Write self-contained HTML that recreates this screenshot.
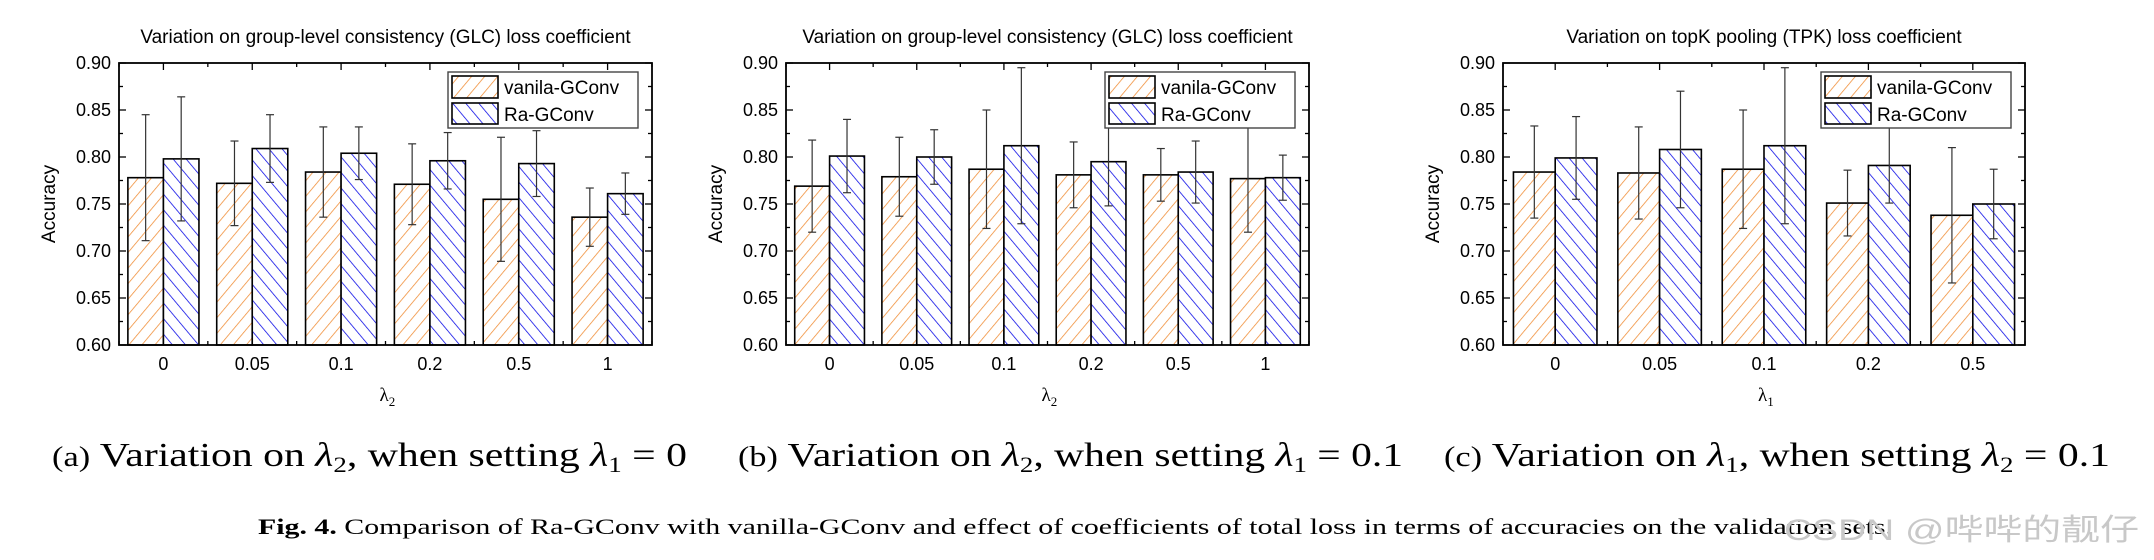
<!DOCTYPE html>
<html><head><meta charset="utf-8"><style>
body{margin:0;background:#fff;width:2154px;height:560px;overflow:hidden;position:relative;font-family:"Liberation Sans",sans-serif}
</style></head><body>
<svg id="svg" width="2154" height="560" style="position:absolute;left:0;top:0">
<defs>
<pattern id="po" width="10" height="10" patternUnits="userSpaceOnUse" patternTransform="rotate(40)"><rect width="10" height="10" fill="#fff"/><line x1="0" y1="0" x2="0" y2="10" stroke="#f08a30" stroke-width="1.5"/></pattern>
<pattern id="pb" width="10" height="10" patternUnits="userSpaceOnUse" patternTransform="rotate(-40)"><rect width="10" height="10" fill="#fff"/><line x1="0" y1="0" x2="0" y2="10" stroke="#0000e6" stroke-width="1.5"/></pattern>
</defs>
<g font-family="Liberation Serif, serif">
<text x="52" y="466" font-size="34" textLength="635" lengthAdjust="spacingAndGlyphs"><tspan font-size="28">(a)</tspan> Variation on <tspan font-style="italic">λ</tspan><tspan font-size="22" dy="6">2</tspan><tspan dy="-6">, when setting </tspan><tspan font-style="italic">λ</tspan><tspan font-size="22" dy="6">1</tspan><tspan dy="-6"> = 0</tspan></text>
<text x="738" y="466" font-size="34" textLength="665" lengthAdjust="spacingAndGlyphs"><tspan font-size="28">(b)</tspan> Variation on <tspan font-style="italic">λ</tspan><tspan font-size="22" dy="6">2</tspan><tspan dy="-6">, when setting </tspan><tspan font-style="italic">λ</tspan><tspan font-size="22" dy="6">1</tspan><tspan dy="-6"> = 0.1</tspan></text>
<text x="1444" y="466" font-size="34" textLength="666" lengthAdjust="spacingAndGlyphs"><tspan font-size="28">(c)</tspan> Variation on <tspan font-style="italic">λ</tspan><tspan font-size="22" dy="6">1</tspan><tspan dy="-6">, when setting </tspan><tspan font-style="italic">λ</tspan><tspan font-size="22" dy="6">2</tspan><tspan dy="-6"> = 0.1</tspan></text>
<text x="258" y="534" font-size="22" textLength="1635" lengthAdjust="spacingAndGlyphs"><tspan font-weight="bold">Fig. 4.</tspan>  Comparison of Ra-GConv with vanilla-GConv and effect of coefficients of total loss in terms of accuracies on the validation sets.</text>
</g>
<text x="1784" y="540" font-size="30" fill="#c8c8c8" textLength="355" lengthAdjust="spacingAndGlyphs" font-family="Liberation Sans, Noto Sans CJK SC, sans-serif">CSDN @哔哔的靓仔</text>
</svg>
<script>
const cats1=["0","0.05","0.1","0.2","0.5","1"];
const van1=[0.778,0.772,0.784,0.771,0.755,0.736];
const van1Hi=[0.845,0.817,0.832,0.814,0.821,0.767];
const van1Lo=[0.711,0.727,0.736,0.728,0.689,0.705];
const ra1=[0.798,0.809,0.804,0.796,0.793,0.761];
const ra1Hi=[0.864,0.845,0.832,0.826,0.828,0.783];
const ra1Lo=[0.732,0.773,0.776,0.766,0.758,0.739];
const cats2=["0","0.05","0.1","0.2","0.5","1"];
const van2=[0.769,0.779,0.787,0.781,0.781,0.777];
const van2Hi=[0.818,0.821,0.850,0.816,0.809,0.834];
const van2Lo=[0.720,0.737,0.724,0.746,0.753,0.720];
const ra2=[0.801,0.800,0.812,0.795,0.784,0.778];
const ra2Hi=[0.840,0.829,0.895,0.842,0.817,0.802];
const ra2Lo=[0.762,0.771,0.729,0.748,0.751,0.754];
const cats3=["0","0.05","0.1","0.2","0.5"];
const van3=[0.784,0.783,0.787,0.751,0.738];
const van3Hi=[0.833,0.832,0.850,0.786,0.810];
const van3Lo=[0.735,0.734,0.724,0.716,0.666];
const ra3=[0.799,0.808,0.812,0.791,0.750];
const ra3Hi=[0.843,0.870,0.895,0.831,0.787];
const ra3Lo=[0.755,0.746,0.729,0.751,0.713];
const yTicks=["0.60","0.65","0.70","0.75","0.80","0.85","0.90"];
const titles=["Variation on group-level consistency (GLC) loss coefficient","Variation on group-level consistency (GLC) loss coefficient","Variation on topK pooling (TPK) loss coefficient"];
const svg=document.getElementById('svg');
const NS='http://www.w3.org/2000/svg';
function mk(tag,at,parent,txt){const e=document.createElementNS(NS,tag);for(const k in at)e.setAttribute(k,at[k]);if(txt!==undefined)e.textContent=txt;parent.appendChild(e);return e;}
function chart(idx,L,R,cats,van,vHi,vLo,ra,rHi,rLo,xlab){
  const T=63,B=345;
  const g=mk('g',{},svg);
  
  
  const y=v=>B-(v-0.6)/0.3*(B-T);
  const gw=(R-L)/cats.length;
  const x=i=>L+gw*(i+0.5);
  const bw=gw*0.4;
  const t=mk('text',{x:(L+R)/2,y:43,'text-anchor':'middle','font-size':19},g,titles[idx]);
  
  
  for(let k=0;k<=12;k++){const v=0.6+k*0.025;const yy=y(v);const len=k%2?4:7;
    mk('line',{x1:L,y1:yy,x2:L+len,y2:yy,stroke:'#000','stroke-width':1.3},g);
    mk('line',{x1:R,y1:yy,x2:R-len,y2:yy,stroke:'#000','stroke-width':1.3},g);}
  yTicks.forEach(s=>{const tl=mk('text',{x:L-8,y:y(parseFloat(s))+6,'text-anchor':'end','font-size':18},g,s);
    });
  for(let i=0;i<=cats.length;i++){const xx=L+gw*i;
    mk('line',{x1:xx,y1:B,x2:xx,y2:B-4,stroke:'#000','stroke-width':1.3},g);
    mk('line',{x1:xx,y1:T,x2:xx,y2:T+4,stroke:'#000','stroke-width':1.3},g);}
  cats.forEach((c,i)=>{
    mk('line',{x1:x(i),y1:B,x2:x(i),y2:B-7,stroke:'#000','stroke-width':1.3},g);
    mk('line',{x1:x(i),y1:T,x2:x(i),y2:T+7,stroke:'#000','stroke-width':1.3},g);
    const tl=mk('text',{x:x(i),y:370,'text-anchor':'middle','font-size':18},g,c);
    
    [[van,vHi,vLo,'url(#po)',x(i)-bw],[ra,rHi,rLo,'url(#pb)',x(i)]].forEach((s,j)=>{
      const r=mk('rect',{x:s[4],y:y(s[0][i]),width:bw,height:B-y(s[0][i]),fill:s[3],stroke:'#000','stroke-width':1.6},g);
      
      
      const cx=s[4]+bw/2;
      mk('line',{x1:cx,y1:y(s[1][i]),x2:cx,y2:y(s[2][i]),stroke:'#333','stroke-width':1.2},g);
      mk('line',{x1:cx-4,y1:y(s[1][i]),x2:cx+4,y2:y(s[1][i]),stroke:'#333','stroke-width':1.2},g);
      mk('line',{x1:cx-4,y1:y(s[2][i]),x2:cx+4,y2:y(s[2][i]),stroke:'#333','stroke-width':1.2},g);
    });
  });
  mk('rect',{x:L,y:T,width:R-L,height:B-T,fill:'none',stroke:'#000','stroke-width':1.8},g);
  const yl=mk('text',{x:0,y:0,'text-anchor':'middle','font-size':19,transform:`translate(${L-64},${(T+B)/2}) rotate(-90)`},g,'Accuracy');
  
  const xl=mk('text',{x:(L+R)/2-6,y:401,'font-size':19,'font-family':'Liberation Serif'},g);
  
  mk('tspan',{},xl,'λ');mk('tspan',{dy:5,'font-size':13},xl,xlab);
  const lx=R-204,ly=72;
  const lg=mk('g',{},g);
  
  mk('rect',{x:lx,y:ly,width:190,height:56,fill:'#fff',stroke:'#444','stroke-width':1.4},lg);
  mk('rect',{x:lx+4,y:ly+4,width:46,height:22,fill:'url(#po)',stroke:'#000','stroke-width':1.6},lg);
  mk('rect',{x:lx+4,y:ly+31,width:46,height:21,fill:'url(#pb)',stroke:'#000','stroke-width':1.6},lg);
  mk('text',{x:lx+56,y:ly+22,'font-size':19},lg,'vanila-GConv');
  mk('text',{x:lx+56,y:ly+49,'font-size':19},lg,'Ra-GConv');
}
chart(0,119,652,cats1,van1,van1Hi,van1Lo,ra1,ra1Hi,ra1Lo,'2');
chart(1,786,1309,cats2,van2,van2Hi,van2Lo,ra2,ra2Hi,ra2Lo,'2');
chart(2,1503,2025,cats3,van3,van3Hi,van3Lo,ra3,ra3Hi,ra3Lo,'1');
</script>
</body></html>
